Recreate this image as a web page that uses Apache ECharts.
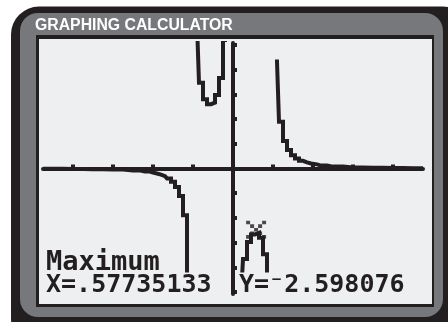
<!DOCTYPE html>
<html>
<head>
<meta charset="utf-8">
<script src="https://cdn.jsdelivr.net/npm/echarts@6/dist/echarts.min.js"></script>
<style>
  html, body { margin: 0; padding: 0; background: #ffffff; }
  #chart { width: 448px; height: 322px; }
</style>
</head>
<body>
<div id="chart"></div>
<script>
// ---- data: y = f(x) branches (TI sample points) ----
const leftBranchX  = [-4.7, -4.5, -4, -3.5, -3, -2.5, -2.2, -2, -1.9, -1.8, -1.7, -1.6, -1.5, -1.4, -1.3, -1.2, -1.1];
const leftBranchY  = [-0.0101, -0.0115, -0.0167, -0.0254, -0.0417, -0.0762, -0.118, -0.1667, -0.2017, -0.248, -0.311, -0.4006, -0.533, -0.744, -1.115, -1.894, -4.329];
const valleyX      = [-0.9, -0.8, -0.7, -0.6, -0.5, -0.4, -0.3, -0.2];
const valleyY      = [5.85, 3.47, 2.8, 2.604, 2.667, 2.976, 3.66, 5.2];
const peakX        = [0.2, 0.3, 0.4, 0.5, 0.6, 0.7, 0.8, 0.9];
const peakY        = [-5.2, -3.66, -2.976, -2.667, -2.604, -2.8, -3.47, -5.85];
const rightBranchX = [1.1, 1.2, 1.3, 1.4, 1.5, 1.6, 1.7, 1.8, 1.9, 2, 2.2, 2.5, 3, 3.5, 4, 4.5, 4.7];
const rightBranchY = [4.329, 1.894, 1.115, 0.744, 0.533, 0.4006, 0.311, 0.248, 0.2017, 0.1667, 0.118, 0.0762, 0.0417, 0.0254, 0.0167, 0.0115, 0.0101];
const cursorX = [0.57735133];
const cursorY = [-2.598076];
const xTicks = [-4, -3, -2, -1, 1, 2, 3, 4];
const yTicks = [-5, -4, -3, -2, -1, 1, 2, 3, 4, 5];
const titleText = 'GRAPHING CALCULATOR';
const line1 = 'Maximum';
const line2x = 'X=.57735133';
const line2y = 'Y=\u207B2.598076';

const INK = '#231f20';
const SCREEN = '#eeeff1';
const BEZEL = '#77787b';

function pairs(xs, ys) { return xs.map((x, i) => [x, ys[i]]); }
function curve(xs, ys) {
  return {
    type: 'line', data: pairs(xs, ys), showSymbol: false, clip: true, step: 'middle',
    lineStyle: { color: INK, width: 4, join: 'miter', cap: 'square' }, z: 3, silent: true, animation: false
  };
}

const chart = echarts.init(document.getElementById('chart'), null, { renderer: 'canvas' });
chart.setOption({
  animation: false,
  backgroundColor: '#ffffff',
  grid: { left: 43, right: 25, top: 43, bottom: 28 },
  xAxis: {
    type: 'value', min: -4.75, max: 4.75,
    axisLine: { onZero: true, lineStyle: { color: INK, width: 4 } },
    axisTick: { show: true, inside: true, length: 4, customValues: xTicks, lineStyle: { color: INK, width: 4 } },
    axisLabel: { show: false }, splitLine: { show: false }
  },
  yAxis: {
    type: 'value', min: -5.08, max: 5.08,
    axisLine: { onZero: true, lineStyle: { color: INK, width: 4 } },
    axisTick: { show: true, inside: true, length: 4, customValues: yTicks, lineStyle: { color: INK, width: 4 } },
    axisLabel: { show: false }, splitLine: { show: false }
  },
  series: [
    curve(leftBranchX, leftBranchY),
    curve(valleyX, valleyY),
    curve(peakX, peakY),
    curve(rightBranchX, rightBranchY),
    {
      type: 'scatter', data: pairs(cursorX, cursorY), z: 4, silent: true,
      symbol: 'path://M0,0h1v1h-1zM4,0h1v1h-1zM1,1h1v1h-1zM3,1h1v1h-1zM2,2h1v1h-1zM1,3h1v1h-1zM3,3h1v1h-1zM0,4h1v1h-1zM4,4h1v1h-1z',
      symbolSize: [20, 18], symbolOffset: [0, -3],
      itemStyle: { color: INK }
    }
  ],
  graphic: [
    { type: 'rect', z: -10, shape: { x: 11, y: 6.5, width: 460, height: 340, r: 28 }, style: { fill: INK } },
    { type: 'rect', z: -9, shape: { x: 20, y: 13, width: 423, height: 304, r: 18 }, style: { fill: BEZEL } },
    { type: 'rect', z: -8, shape: { x: 36, y: 35, width: 398, height: 272 }, style: { fill: INK } },
    { type: 'rect', z: -7, shape: { x: 39, y: 39, width: 393, height: 265 }, style: { fill: SCREEN } },
    { type: 'text', z: 10, style: { text: titleText, x: 35, y: 25.5, fill: '#ffffff',
        font: 'bold 15.8px "Liberation Sans", Arial, sans-serif', textVerticalAlign: 'middle' } },
    { type: 'text', z: 10, style: { text: line1, x: 46, y: 262.5, fill: INK, backgroundColor: SCREEN,
        font: 'bold 27px "DejaVu Sans Mono", monospace', textVerticalAlign: 'middle' } },
    { type: 'text', z: 10, style: { text: line2x, x: 46, y: 285, fill: INK, backgroundColor: SCREEN,
        font: 'bold 25px "DejaVu Sans Mono", monospace', textVerticalAlign: 'middle' } },
    { type: 'text', z: 10, style: { text: line2y, x: 239, y: 285, fill: INK, backgroundColor: SCREEN,
        font: 'bold 25px "DejaVu Sans Mono", monospace', textVerticalAlign: 'middle' } }
  ]
});
</script>
</body>
</html>
